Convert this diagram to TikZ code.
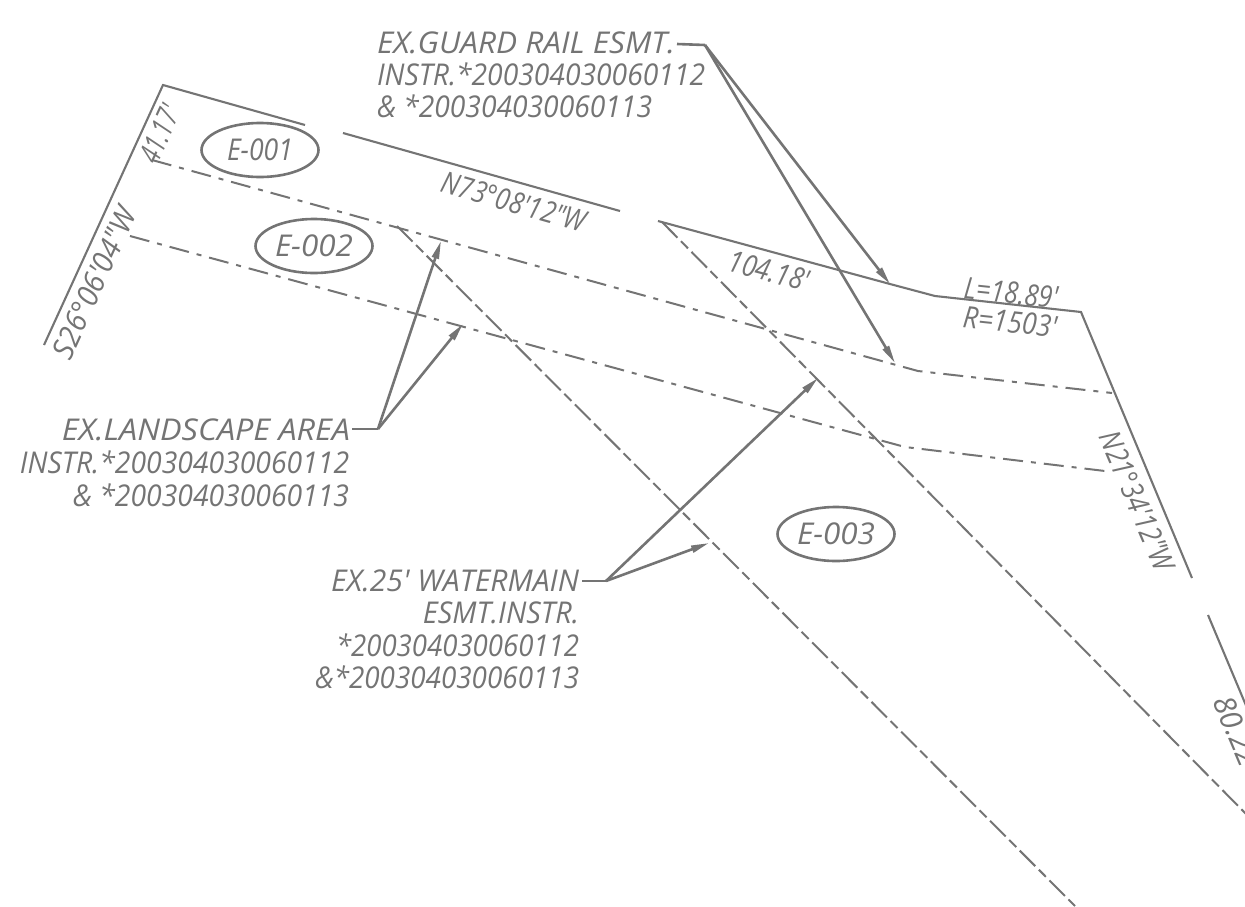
\documentclass[tikz,border=0pt]{standalone}
\usepackage{fontspec}
\usepackage{graphicx}
\newfontfamily\cadfont{Open Sans Italic}
\newcommand{\fitw}[2]{\resizebox{#1pt}{\height}{#2}}
\usetikzlibrary{arrows.meta,shapes.geometric}
\definecolor{ink}{HTML}{747474}
\tikzset{
  boundary/.style={draw=ink,line width=2.1pt},
  dashdot/.style={draw=ink,line width=2pt,dash pattern=on 20pt off 8pt on 5pt off 8pt},
  esmt/.style={draw=ink,line width=2pt,dash pattern=on 22pt off 5pt on 10pt off 5pt},
  leader/.style={draw=ink,line width=2.6pt},
  arrowed/.style={leader,-{Stealth[length=18pt,width=7pt,inset=0pt]}},
  lbl/.style={text=ink,font=\cadfont\fontsize{30}{30}\selectfont,inner sep=0pt,outer sep=0pt},
  lw/.style={lbl,anchor=base west},
  le/.style={lbl,anchor=base east},
  tag/.style={ellipse,draw=ink,line width=2.6pt,minimum width=117pt,minimum height=54pt,inner sep=0pt,text=ink,font=\cadfont\fontsize{30}{30}\selectfont},
}
\begin{document}
\begin{tikzpicture}[x=1pt,y=-1pt]
\useasboundingbox (0,0) rectangle (1245,906);
\clip (0,0) rectangle (1245,906);
% boundary
\coordinate (b0) at (44,345);
\coordinate (b1) at (163,85);
\coordinate (b2) at (305,125);
\coordinate (b3) at (343,133);
\coordinate (b4) at (620,211);
\coordinate (b5) at (658,221);
\coordinate (b6) at (890,284);
\coordinate (b7) at (935,296);
\coordinate (b8) at (1081,312);
\coordinate (b9) at (1192,578);
\coordinate (b10) at (1208,615);
\coordinate (b11) at (1250,715);
\draw[boundary,line join=miter] (b0) -- (b1) -- (b2);
\draw[boundary] (b3) -- (b4);
\draw[boundary] (b5) -- (b6) -- (b7) -- (b8) -- (b9);
\draw[boundary] (b10) -- (b11);
% dash-dot
\coordinate (a0) at (152,160);
\coordinate (a1) at (918,371);
\coordinate (a2) at (1112,393);
\coordinate (c0) at (130,236);
\coordinate (c1) at (905,447);
\coordinate (c2) at (1105,471);
\draw[dashdot] (a0) -- (a1) -- (a2);
\draw[dashdot] (c0) -- (c1) -- (c2);
% easement dashes
\coordinate (d0) at (397,226);
\coordinate (d1) at (1075,906);
\coordinate (f0) at (662,222);
\coordinate (f1) at (1250,818);
\draw[esmt] (d0) -- (d1);
\draw[esmt] (f0) -- (f1);
% tags
\node[tag] (e1) at (260,150) {\fitw{66}{E-001}};
\node[tag] (e2) at (314,246) {\fitw{78}{E-002}};
\node[tag] (e3) at (836,534) {\fitw{78}{E-003}};
% guard rail
\node[lw] (g1) at (377,53) {\fitw{298}{EX.GUARD RAIL ESMT.}};
\node[lw] (g2) at (377,85) {\fitw{328}{INSTR.*200304030060112}};
\node[lw] (g3) at (377,117) {\fitw{275}{\& *200304030060113}};
\coordinate (gs) at (677,44);
\coordinate (gk) at (705,45);
\coordinate (gt1) at (890,284);
\coordinate (gt2) at (895,363);
\draw[leader] (gs) -- (gk);
\draw[arrowed] (gk) -- (gt1);
\draw[arrowed] (gk) -- (gt2);
% landscape
\node[le] (l1) at (350,440) {\fitw{288}{EX.LANDSCAPE AREA}};
\node[le] (l2) at (349,473) {\fitw{329}{INSTR.*200304030060112}};
\node[le] (l3) at (349,506) {\fitw{276}{\& *200304030060113}};
\coordinate (ls) at (352,429);
\coordinate (lk) at (378,429);
\coordinate (lt1) at (441,241);
\coordinate (lt2) at (463,324);
\draw[leader] (ls) -- (lk);
\draw[arrowed] (lk) -- (lt1);
\draw[arrowed] (lk) -- (lt2);
% watermain
\node[le] (w1) at (579,591) {\fitw{248}{EX.25' WATERMAIN}};
\node[le] (w2) at (579,623) {\fitw{156}{ESMT.INSTR.}};
\node[le] (w3) at (579,656) {\fitw{243}{*200304030060112}};
\node[le] (w4) at (579,688) {\fitw{264}{\&*200304030060113}};
\coordinate (ws) at (582,581);
\coordinate (wk) at (606,581);
\coordinate (wt1) at (818,378);
\coordinate (wt2) at (709,543);
\draw[leader] (ws) -- (wk);
\draw[arrowed] (wk) -- (wt1);
\draw[arrowed] (wk) -- (wt2);
% dimensions
\node[lbl,rotate=65.4] (t1) at (160,134) {\fitw{60}{41.17'}};
\node[lbl,rotate=65.4] (t2) at (94,283) {\fitw{162}{S26°06'04"W}};
\node[lbl,rotate=-16] (t3) at (514,202) {\fitw{148}{N73°08'12"W}};
\node[lbl,rotate=-15] (t4) at (769,271) {\fitw{82}{104.18'}};
\node[lbl,rotate=-6] (t5) at (1011,293) {\fitw{94}{L=18.89'}};
\node[lbl,rotate=-6] (t6) at (1010,322) {\fitw{94}{R=1503'}};
\node[lbl,rotate=-67] (t7) at (1137,501) {\fitw{149}{N21°34'12"W}};
\node[lbl,rotate=-67,anchor=west] (t8) at (1222,697) {80.22'};
\end{tikzpicture}
\end{document}
